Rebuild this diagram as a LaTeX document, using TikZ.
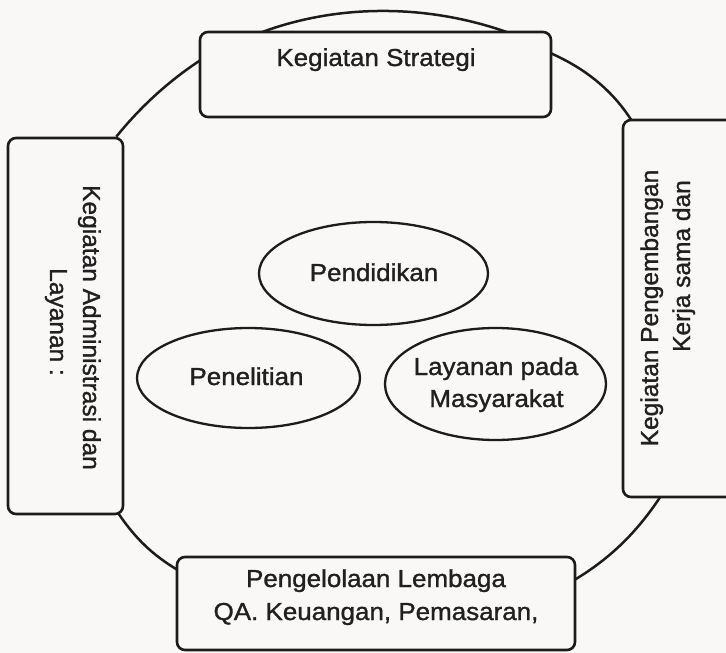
\documentclass[tikz,border=0pt]{standalone}
\usepackage{fontspec}
\setmainfont{Liberation Sans}[FakeStretch=1.06,FakeBold=1.2]
\newfontfamily\plainfam{Liberation Sans}[FakeBold=1.2]
\usetikzlibrary{shapes.geometric,calc}
\definecolor{paper}{RGB}{250,247,247}
\definecolor{ink}{RGB}{28,28,28}
\definecolor{txt}{RGB}{32,32,32}
\pgfdeclarelayer{back}
\pgfsetlayers{back,main}
\tikzset{
  boxnode/.style={draw=ink, line width=2.6pt, fill=paper, rounded corners=8pt, inner sep=0pt},
  oval/.style={ellipse, draw=ink, line width=2.3pt, inner sep=0pt},
  lbl/.style={text=txt, inner sep=0pt, anchor=base, font=\fontsize{24.5}{32}\selectfont},
  vlbl/.style={text=txt, inner sep=0pt, anchor=base, font=\plainfam\fontsize{24.5}{32}\selectfont},
  rim/.style={draw=ink, line width=2.5pt},
}
\begin{document}
\begin{tikzpicture}[x=1pt,y=-1pt]
\useasboundingbox (0,0) rectangle (726,653);
\begin{pgfonlayer}{back}
  \fill[paper] (0,0) rectangle (726,653);
\end{pgfonlayer}

% the four activity boxes around the ring
\node[boxnode, minimum width=351pt, minimum height=85pt]  (strat)   at (375.5,74.5) {};
\node[boxnode, minimum width=115pt, minimum height=376pt] (admin)   at (65.5,326)   {};
\node[boxnode, minimum width=130pt, minimum height=377pt] (kerja)   at (688,308.5)  {};
\node[boxnode, minimum width=398pt, minimum height=93pt]  (lembaga) at (376,603.5)  {};

% box labels
\node[lbl] (tstrat) at (376,66) {Kegiatan Strategi};
\node[lbl] (tlem1) at (376,587) {Pengelolaan Lembaga};
\node[lbl] (tlem2) at (376,620) {QA. Keuangan, Pemasaran,};
\node[vlbl, rotate=-90] (tadm1) at (83,327.5) {Kegiatan Administrasi dan};
\node[vlbl, rotate=-90] (tadm2) at (50,322) {Layanan :};
\node[vlbl, rotate=90] (tker1) at (658,308) {Kegiatan Pengembangan};
\node[vlbl, rotate=90] (tker2) at (690,266) {Kerja sama dan};

% core activities
\node[oval, minimum width=229pt, minimum height=103pt] (pend)  at (373.5,273.5) {};
\node[oval, minimum width=223pt, minimum height=100pt] (pene)  at (248.5,378)   {};
\node[oval, minimum width=221pt, minimum height=112pt] (layan) at (495.5,384)   {};
\node[lbl] (tpend) at (374,281) {Pendidikan};
\node[lbl] (tpene) at (246.5,385) {Penelitian};
\node[lbl] (tlay1) at (496,375) {Layanan pada};
\node[lbl] (tlay2) at (496.5,407) {Masyarakat};

% the ring linking the boxes, drawn behind them
\begin{pgfonlayer}{back}
  \draw[rim] ($(strat.north)+(-115,2)$) .. controls ($(strat.north)+(-38,-27)$) and ($(strat.north)+(52,-27)$) .. ($(strat.north)+(133,2)$);
  \draw[rim] ($(admin.north east)+(-8,0)$) .. controls ($(admin.north east)+(16.7,-30.6)$) and ($(admin.north east)+(45.1,-56.2)$) .. ($(strat.west)+(2,-14.5)$);
  \draw[rim] ($(strat.east)+(-2,-21.5)$) .. controls ($(strat.east)+(33,-6)$) and ($(strat.east)+(60,15.6)$) .. ($(kerja.north west)+(10,2)$);
  \draw[rim] ($(kerja.south west)+(39,-2)$) .. controls ($(kerja.south west)+(15.5,33.5)$) and ($(lembaga.east)+(34.5,-45.4)$) .. ($(lembaga.east)+(-2,-23.5)$);
  \draw[rim] ($(admin.south east)+(-6,-2)$) .. controls ($(admin.south east)+(11.4,23.7)$) and ($(lembaga.west)+(-22.6,-48.2)$) .. ($(lembaga.west)+(2,-33.5)$);
\end{pgfonlayer}
\end{tikzpicture}
\end{document}
